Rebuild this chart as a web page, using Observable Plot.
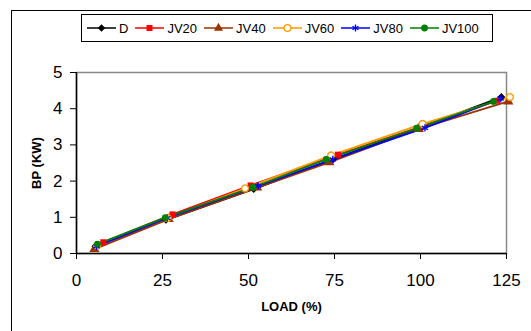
<!DOCTYPE html>
<html>
<head>
<meta charset="utf-8">
<script src="https://cdn.jsdelivr.net/npm/d3@7"></script>
<script src="https://cdn.jsdelivr.net/npm/@observablehq/plot@0.6"></script>
<style>
  html, body { margin: 0; padding: 0; background: #fff; }
  body { width: 531px; height: 331px; position: relative; overflow: hidden; font-family: "Liberation Sans", Arial, sans-serif; }
  #frame { position: absolute; left: 11px; top: 10px; width: 600px; height: 400px; border-left: 1px solid #000; border-top: 1px solid #000; }
  #chart { position: absolute; left: 0; top: 0; }
  #legend { position: absolute; left: 81px; top: 14px; width: 405px; height: 26px; border: 1px solid #000; background: #fff; display: flex; align-items: center; padding-left: 5px; box-sizing: content-box; }
  .item { display: flex; align-items: center; margin-right: 7px; font-size: 13px; color: #000; }
  .item svg { margin-right: 3px; }
</style>
</head>
<body>
<div id="frame"></div>
<div id="chart"></div>
<div id="legend"></div>
<script>
const seriesNames = ["D", "JV20", "JV40", "JV60", "JV80", "JV100"];
const colors = ["#000000", "#ff0000", "#993300", "#ff9900", "#0000ff", "#008000"];
const symbols = ["diamond2", "square", "triangle", "circle", "asterisk", "circle"];
const fills = ["#000000", "#ff0000", "#993300", "#ffffff", "none", "#008000"];

const loadD = [5.5, 26, 51.5, 74.5, 101, 123.5];
const bpD = [0.2, 0.93, 1.78, 2.6, 3.52, 4.32];
const loadJV20 = [7.8, 27.9, 50.6, 76, 100, 122.3];
const bpJV20 = [0.31, 1.08, 1.88, 2.73, 3.5, 4.22];
const loadJV40 = [5.2, 26.8, 52.5, 73.5, 99.5, 125.5];
const bpJV40 = [0.12, 0.95, 1.82, 2.52, 3.44, 4.2];
const loadJV60 = [6, 26.5, 49, 74, 100.6, 126];
const bpJV60 = [0.22, 0.98, 1.8, 2.71, 3.58, 4.32];
const loadJV80 = [5.8, 26.4, 52.8, 74.5, 101.3, 123.3];
const bpJV80 = [0.2, 0.98, 1.87, 2.6, 3.47, 4.28];
const loadJV100 = [6.1, 25.8, 51.3, 72.6, 98.9, 121.2];
const bpJV100 = [0.26, 0.99, 1.83, 2.6, 3.46, 4.2];

const xTicks = [0, 25, 50, 75, 100, 125];
const yTicks = [0, 1, 2, 3, 4, 5];

const loads = [loadD, loadJV20, loadJV40, loadJV60, loadJV80, loadJV100];
const bps = [bpD, bpJV20, bpJV40, bpJV60, bpJV80, bpJV100];

const data = [];
seriesNames.forEach((s, i) => {
  loads[i].forEach((l, j) => data.push({series: s, load: l, bp: bps[i][j], idx: i}));
});

const marks = [
  Plot.frame({stroke: "#888888", strokeWidth: 1.5}),
  Plot.axisX({ticks: xTicks, tickSize: 6, tickPadding: 14, fontSize: 17, label: null, tickFormat: d3.format("d")}),
  Plot.axisY({ticks: yTicks, tickSize: 6, tickPadding: 8, fontSize: 17, label: null, tickFormat: d3.format("d")}),
  Plot.ruleY([0], {stroke: "#000", strokeWidth: 1.5}),
  Plot.ruleX([0], {stroke: "#000", strokeWidth: 1.5}),
];
seriesNames.forEach((s, i) => {
  const d = data.filter(r => r.series === s);
  marks.push(Plot.line(d, {x: "load", y: "bp", stroke: colors[i], strokeWidth: 1.8}));
});
seriesNames.forEach((s, i) => {
  const d = data.filter(r => r.series === s);
  const isStroke = symbols[i] === "asterisk" || fills[i] === "#ffffff";
  marks.push(Plot.dot(d, {
    x: "load", y: "bp", symbol: () => symbols[i],
    r: symbols[i] === "triangle" ? 3.8 : (symbols[i] === "diamond2" ? 3.6 : 3.4),
    fill: fills[i], stroke: isStroke ? colors[i] : "none", strokeWidth: isStroke ? 1.3 : 0
  }));
});

const chart = Plot.plot({
  width: 531, height: 331,
  marginLeft: 76, marginRight: 25, marginTop: 72, marginBottom: 78,
  style: {fontFamily: "'Liberation Sans', Arial, sans-serif", background: "transparent", color: "#000"},
  x: {domain: [0, 125]},
  y: {domain: [0, 5]},
  symbol: {type: "identity"},
  marks: [
    ...marks,
    Plot.text(["LOAD (%)"], {frameAnchor: "bottom", dy: 57, fontSize: 13, fontWeight: "bold"}),
    Plot.text(["BP (KW)"], {frameAnchor: "left", textAnchor: "middle", dx: -40, rotate: -90, fontSize: 13, fontWeight: "bold"})
  ]
});
document.getElementById("chart").appendChild(chart);

// legend
const legend = document.getElementById("legend");
seriesNames.forEach((s, i) => {
  const item = document.createElement("div");
  item.className = "item";
  const svg = d3.create("svg").attr("width", 29).attr("height", 12);
  svg.append("line").attr("x1", 0).attr("x2", 29).attr("y1", 6).attr("y2", 6)
    .attr("stroke", colors[i]).attr("stroke-width", 1.5);
  const sym = {diamond2: d3.symbolDiamond2, square: d3.symbolSquare, triangle: d3.symbolTriangle,
               circle: d3.symbolCircle, asterisk: d3.symbolAsterisk}[symbols[i]];
  const isStroke = symbols[i] === "asterisk" || fills[i] === "#ffffff";
  svg.append("path").attr("transform", "translate(14.5,6)")
    .attr("d", d3.symbol(sym, symbols[i] === "asterisk" ? 34 : 36)())
    .attr("fill", fills[i]).attr("stroke", isStroke ? colors[i] : "none").attr("stroke-width", 1.3);
  item.appendChild(svg.node());
  const t = document.createElement("span");
  t.textContent = s;
  item.appendChild(t);
  legend.appendChild(item);
});
</script>
</body>
</html>
